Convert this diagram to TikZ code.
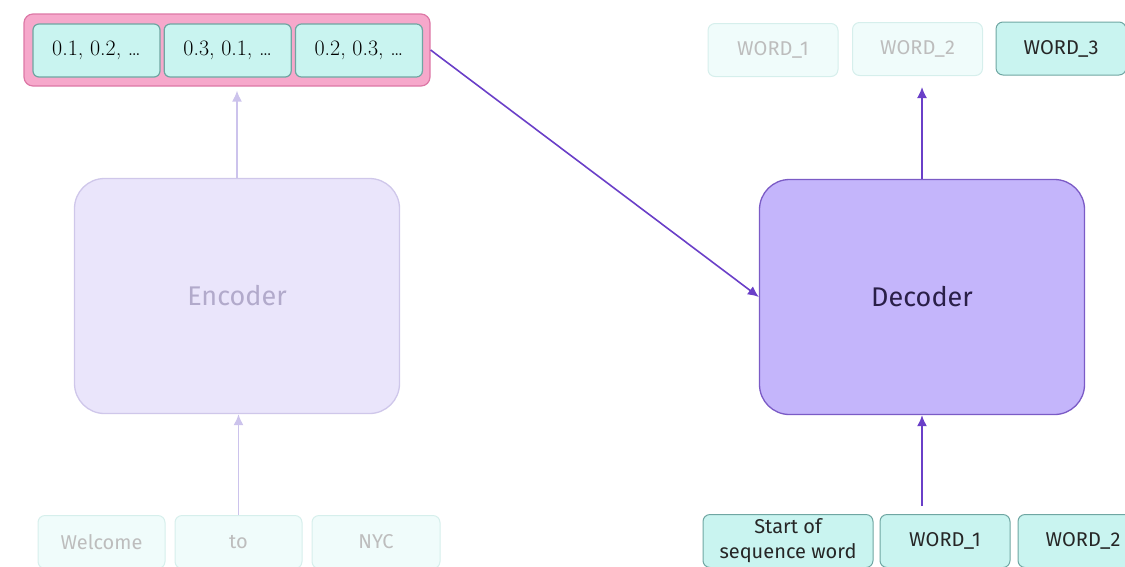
\documentclass[tikz,border=0pt]{standalone}
\usepackage{fontspec}
\setsansfont{Fira Sans}
\usetikzlibrary{arrows.meta,positioning}

\definecolor{vecfill}{HTML}{F6A8CB}
\definecolor{vecline}{HTML}{DD78A6}
\definecolor{cellfill}{HTML}{C9F4F0}
\definecolor{cellline}{HTML}{6FA6A2}
\definecolor{fadefill}{HTML}{F0FCFB}
\definecolor{fadeline}{HTML}{D6EFEC}
\definecolor{fadetext}{HTML}{BDBDBD}
\definecolor{encfill}{HTML}{EAE5FB}
\definecolor{encline}{HTML}{CFC7EA}
\definecolor{enctext}{HTML}{B2AACB}
\definecolor{decfill}{HTML}{C4B5FB}
\definecolor{decline}{HTML}{7B5BC6}
\definecolor{dectext}{HTML}{2A1F48}
\definecolor{arrowdark}{HTML}{6A3FC8}
\definecolor{arrowpale}{HTML}{CCC3EC}

\tikzset{
  cellbox/.style={draw=cellline, fill=cellfill, rounded corners=6pt, line width=1.2pt,
    minimum width=127pt, minimum height=53pt, inner sep=0pt,
    font=\fontsize{22}{24}\selectfont},
  wordbox/.style={draw=cellline, fill=cellfill, rounded corners=7pt, line width=1pt,
    minimum width=130pt, minimum height=53pt, inner sep=0pt, align=center,
    font=\sffamily\fontsize{20}{25}\selectfont, text=black!85},
  fadebox/.style={wordbox, draw=fadeline, fill=fadefill, text=fadetext},
  blockbox/.style={rounded corners=30pt, line width=1.3pt, inner sep=0pt,
    minimum width=325pt, minimum height=235pt,
    font=\sffamily\fontsize{27}{30}\selectfont},
  flow/.style={line width=1.6pt, -{Latex[length=11pt,width=10pt]}}
}

\begin{document}
\begin{tikzpicture}[x=1pt,y=-1pt]
\useasboundingbox (0,0) rectangle (1125,566);
\clip (0,0) rectangle (1125,566);

% context vector
\node[draw=vecline, fill=vecfill, rounded corners=9pt, line width=1.2pt,
  minimum width=406pt, minimum height=72pt] (vec) at (227,50) {};
\node[cellbox] (c1) at (96.5,50.5) {0.1, 0.2, \ldots};
\node[cellbox, right=3pt of c1] (c2) {0.3, 0.1, \ldots};
\node[cellbox, right=3pt of c2] (c3) {0.2, 0.3, \ldots};

% encoder side
\node[blockbox, draw=encline, fill=encfill, text=enctext] (enc) at (237,296) {Encoder};
\node[fadebox, minimum width=127pt] (in1) at (101.5,542) {Welcome};
\node[fadebox, minimum width=127pt] (in2) at (238.5,542) {to};
\node[fadebox, minimum width=128pt] (in3) at (376,542) {NYC};

\draw[flow, arrowpale] (in2.north) -- (in2.north |- enc.south);
\draw[flow, arrowpale, shorten >=4pt] (enc.north) -- (enc.north |- vec.south);

% decoder side
\node[blockbox, draw=decline, fill=decfill, text=dectext] (dec) at (922,297) {Decoder};
\node[fadebox] (tw1) at (773,50) {WORD\_1};
\node[fadebox] (tw2) at (917.5,49) {WORD\_2};
\node[wordbox] (tw3) at (1061,48.5) {WORD\_3};
\node[wordbox, minimum width=170pt] (sw) at (788,541) {Start of\\sequence word};
\node[wordbox] (bw1) at (945,541) {WORD\_1};
\node[wordbox] (bw2) at (1083,541) {WORD\_2};

\draw[flow, arrowdark] (vec.east) -- (dec.west);
\draw[flow, arrowdark, shorten <=8pt] (bw1.north -| dec.south) -- (dec.south);
\draw[flow, arrowdark, shorten >=11pt] (dec.north) -- (dec.north |- tw2.south);
\end{tikzpicture}
\end{document}
